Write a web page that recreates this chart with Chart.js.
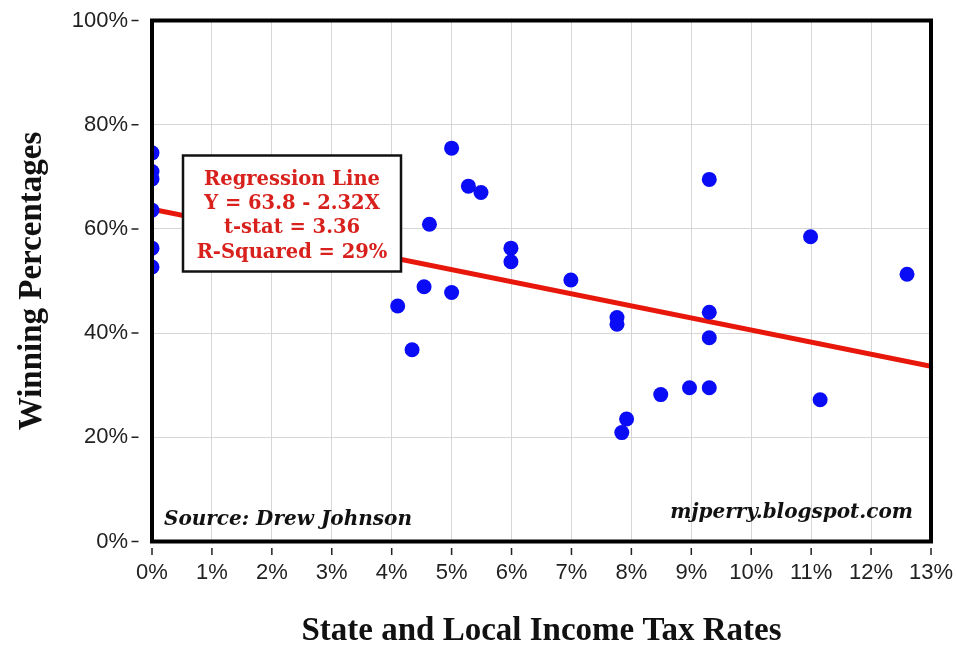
<!DOCTYPE html>
<html>
<head>
<meta charset="utf-8">
<script src="https://cdn.jsdelivr.net/npm/chart.js@4.4.1/dist/chart.umd.min.js"></script>
<style>
  html, body { margin: 0; padding: 0; background: #fff; }
  #wrap { width: 956px; height: 645px; }
</style>
</head>
<body>
<div id="wrap"><canvas id="chart" width="956" height="645"></canvas></div>
<script>
// State and local income tax rate (%) for each team's home market
const taxRates = [0, 0, 0, 0, 0, 0,
  5.0, 5.28, 5.49, 4.63, 5.99, 5.99, 6.99, 4.54, 5.0, 4.1, 4.34, 7.76, 7.76,
  9.3, 10.99, 12.6, 9.3, 9.3, 8.49, 8.97, 9.3, 11.15, 7.92, 7.84];
// Winning percentage (%) of each team
const winPcts = [74.6, 71.0, 69.6, 63.6, 56.3, 52.7,
  75.5, 68.2, 67.0, 60.9, 56.3, 53.7, 50.2, 48.9, 47.8, 45.2, 36.8, 43.0, 41.7,
  69.5, 58.5, 51.3, 44.0, 39.1, 28.2, 29.5, 29.5, 27.2, 23.5, 20.9];

const xTicks = [0, 1, 2, 3, 4, 5, 6, 7, 8, 9, 10, 11, 12, 13];
const yTicks = [0, 20, 40, 60, 80, 100];

// Fitted line: Y = 63.8 - 2.32X
const intercept = 63.8;
const slope = -2.32;
const fitX = [0, 13];

const statLines = ['Regression Line', 'Y = 63.8 - 2.32X', 't-stat = 3.36', 'R-Squared = 29%'];
const sourceNote = 'Source: Drew Johnson';
const siteNote = 'mjperry.blogspot.com';

const points = taxRates.map((x, i) => ({ x: x, y: winPcts[i] }));
const fitLine = fitX.map(x => ({ x: x, y: intercept + slope * x }));

const tickFont = { family: '"Liberation Sans", Arial, sans-serif', size: 22 };
const titleFont = { family: '"Liberation Serif", "Times New Roman", serif', size: 33, weight: 'bold', lineHeight: 0.85 };

const decorations = {
  id: 'decorations',
  afterDatasetsDraw(chart) {
    const { ctx, chartArea: a, scales: { x, y } } = chart;
    ctx.save();

    // statistics box
    const bx = a.left + 31, by = a.top + 135, bw = 218, bh = 116;
    ctx.fillStyle = '#fff';
    ctx.fillRect(bx, by, bw, bh);
    ctx.strokeStyle = '#111';
    ctx.lineWidth = 2.5;
    ctx.strokeRect(bx, by, bw, bh);
    ctx.fillStyle = '#d8201c';
    ctx.font = 'bold 19.5px "DejaVu Serif", serif';
    ctx.textAlign = 'center';
    ctx.textBaseline = 'alphabetic';
    statLines.forEach((t, i) => ctx.fillText(t, bx + bw / 2, by + 29 + i * 24.4));

    // notes inside the plot
    ctx.fillStyle = '#111';
    ctx.font = 'italic bold 20px "DejaVu Serif", serif';
    ctx.textAlign = 'left';
    ctx.fillText(sourceNote, a.left + 12, a.bottom - 16.5);
    ctx.textAlign = 'right';
    ctx.fillText(siteNote, a.right - 18, a.bottom - 23.5);

    // heavy frame around the plot
    ctx.strokeStyle = '#000';
    ctx.lineWidth = 4;
    ctx.strokeRect(a.left, a.top, a.right - a.left, a.bottom - a.top);

    // small tick marks standing off the frame
    ctx.strokeStyle = '#222';
    ctx.lineWidth = 1.5;
    ctx.beginPath();
    yTicks.forEach(v => {
      const py = y.getPixelForValue(v);
      ctx.moveTo(a.left - 20.5, py);
      ctx.lineTo(a.left - 13.5, py);
    });
    xTicks.forEach(v => {
      const px = x.getPixelForValue(v);
      ctx.moveTo(px, a.bottom + 6.5);
      ctx.lineTo(px, a.bottom + 13.5);
    });
    ctx.stroke();
    ctx.restore();
  }
};

new Chart(document.getElementById('chart'), {
  type: 'scatter',
  data: {
    datasets: [
      {
        type: 'line',
        data: fitLine,
        borderColor: '#e8170c',
        borderWidth: 5,
        pointRadius: 0,
        fill: false,
        clip: 0,
        order: 1
      },
      {
        data: points,
        backgroundColor: '#0a0cf5',
        borderWidth: 0,
        pointRadius: 7.5,
        pointHoverRadius: 7.5,
        clip: 0,
        order: 0
      }
    ]
  },
  options: {
    responsive: false,
    animation: false,
    devicePixelRatio: 1,
    layout: { padding: { top: 20.5, right: 25, left: 0, bottom: 0 } },
    plugins: { legend: { display: false }, tooltip: { enabled: false } },
    scales: {
      x: {
        type: 'linear',
        min: 0,
        max: 13,
        afterBuildTicks: s => { s.ticks = xTicks.map(v => ({ value: v })); },
        afterFit: s => { s.height = 103.5; s.paddingLeft = 0; s.paddingRight = 0; },
        grid: { color: '#d6d6d6', lineWidth: 1, drawTicks: false },
        border: { display: false },
        ticks: { font: tickFont, color: '#222', padding: 18, maxRotation: 0, callback: v => v + '%' },
        title: { display: true, text: 'State and Local Income Tax Rates', font: titleFont, color: '#111', padding: { top: 0, bottom: 0 } }
      },
      y: {
        type: 'linear',
        min: 0,
        max: 100,
        afterBuildTicks: s => { s.ticks = yTicks.map(v => ({ value: v })); },
        afterFit: s => { s.width = 152; s.paddingTop = 0; s.paddingBottom = 0; },
        grid: { color: '#d6d6d6', lineWidth: 1, drawTicks: false },
        border: { display: false },
        ticks: { font: tickFont, color: '#222', padding: 24, callback: v => v + '%' },
        title: { display: true, text: 'Winning Percentages', font: titleFont, color: '#111', padding: { top: 18, bottom: 0 } }
      }
    }
  },
  plugins: [decorations]
});
</script>
</body>
</html>
